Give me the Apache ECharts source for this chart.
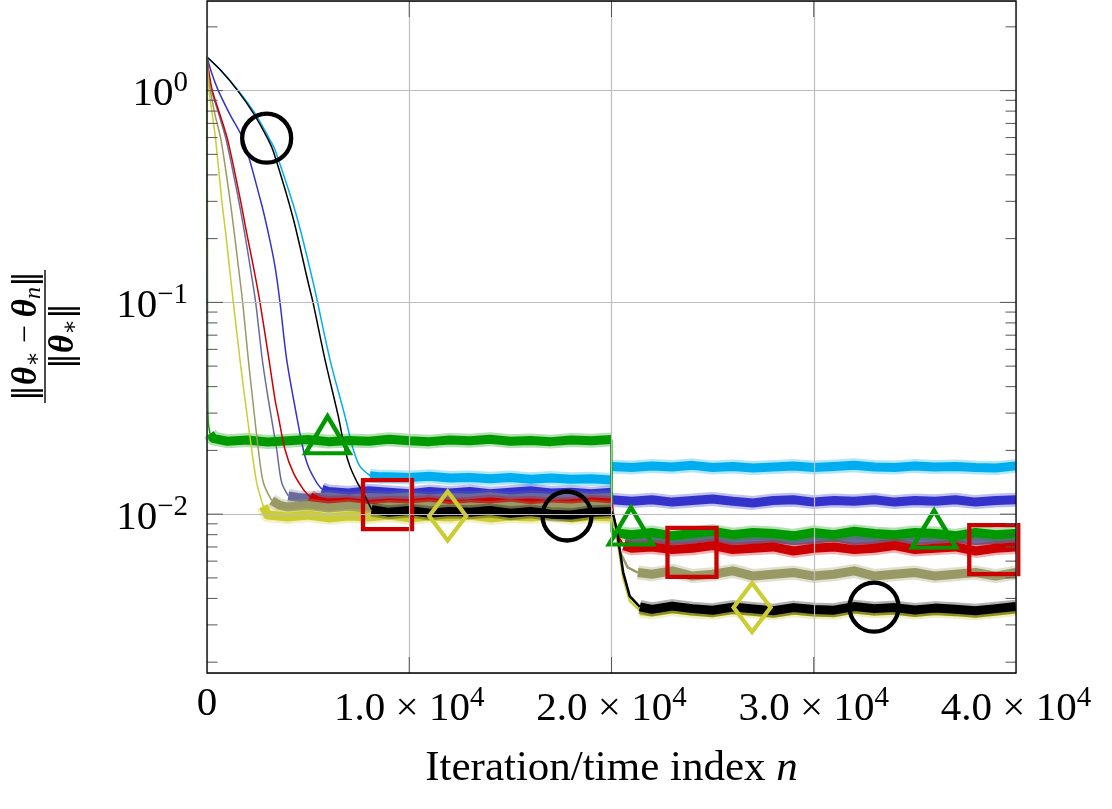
<!DOCTYPE html>
<html>
<head>
<meta charset="utf-8">
<script src="https://cdn.jsdelivr.net/npm/echarts@6/dist/echarts.min.js"></script>
<style>
  html, body { margin: 0; padding: 0; background: #fff; }
  #chart { width: 1112px; height: 809px; }
</style>
</head>
<body>
<div id="chart"></div>
<script>
// axis extents
const xMin = 0;
const xMax = 40000;
const yMin = 0.001778;
const yMax = 2.649;
const xTickExp = 4;

// tick positions
const xMajorTicks = [10000, 20000, 30000];
const yMajorTicks = [0.01, 0.1, 1];
const yMinorTicks = [0.002, 0.003, 0.004, 0.005, 0.006, 0.007, 0.008, 0.009,
  0.02, 0.03, 0.04, 0.05, 0.06, 0.07, 0.08, 0.09,
  0.2, 0.3, 0.4, 0.5, 0.6, 0.7, 0.8, 0.9, 2];

// [iteration n, relative error]
const cyanPath = [[0,1.44],[700,1.24],[1549,1.0],[2373,0.78],[3115,0.585],[3362,0.525],[4435,0.2544],[5255,0.1234],[6081,0.0537],[6823,0.029],[7233,0.0202],[7564,0.0168],[8059,0.0152],[8600,0.0150],[9000,0.0150],[10000,0.0149],[11000,0.0151],[12000,0.0148],[13000,0.0149],[14000,0.0147],[15000,0.0149],[16000,0.0146],[17000,0.0148],[18000,0.0146],[19000,0.0147],[19990,0.0145],[20010,0.0168],[21000,0.0166],[22000,0.0169],[23000,0.0167],[24000,0.0170],[25000,0.0166],[26000,0.0168],[27000,0.0165],[28000,0.0167],[29000,0.0169],[30000,0.0166],[31000,0.0168],[32000,0.0170],[33000,0.0167],[34000,0.0166],[35000,0.0169],[36000,0.0167],[37000,0.0168],[38000,0.0166],[39000,0.0165],[40000,0.0169]];
const bluePath = [[0,1.44],[231,1.21],[560,1.0],[1137,0.77],[1797,0.585],[2640,0.305],[3032,0.2125],[3362,0.148],[3609,0.1],[3940,0.0537],[4435,0.029],[4761,0.0202],[5008,0.0168],[5424,0.0141],[5686,0.0131],[6000,0.0128],[7000,0.0126],[8000,0.0129],[9000,0.0127],[10000,0.0125],[11000,0.0128],[12000,0.0126],[13000,0.0128],[14000,0.0125],[15000,0.0127],[16000,0.0129],[17000,0.0126],[18000,0.0127],[19000,0.0125],[19990,0.0127],[20010,0.0117],[21000,0.0115],[22000,0.0117],[23000,0.0114],[24000,0.0116],[25000,0.0118],[26000,0.0115],[27000,0.0113],[28000,0.0116],[29000,0.0117],[30000,0.0114],[31000,0.0116],[32000,0.0115],[33000,0.0117],[34000,0.0114],[35000,0.0116],[36000,0.0115],[37000,0.0117],[38000,0.0114],[39000,0.0116],[40000,0.0117]];
const slatePath = [[0,1.44],[90,1.21],[230,1.0],[590,0.77],[950,0.585],[1560,0.305],[1860,0.2125],[2130,0.148],[2406,0.1],[2735,0.0536],[3032,0.0348],[3445,0.0202],[3692,0.0141],[4021,0.0122],[4500,0.0120],[5000,0.0119],[6000,0.0121],[7000,0.0118],[8000,0.0120],[9000,0.0119],[10000,0.0121],[11000,0.0118],[12000,0.0120],[13000,0.0119],[14000,0.0121],[15000,0.0118],[16000,0.0120],[17000,0.0119],[18000,0.0121],[19000,0.0119],[19990,0.0120],[20100,0.0096],[20300,0.0081],[20700,0.0077],[21000,0.0076],[22000,0.0077],[23000,0.0075],[24000,0.0076],[25000,0.0078],[26000,0.0075],[27000,0.0076],[28000,0.0077],[29000,0.0075],[30000,0.0076],[31000,0.0078],[32000,0.0075],[33000,0.0076],[34000,0.0077],[35000,0.0075],[36000,0.0076],[37000,0.0077],[38000,0.0075],[39000,0.0076],[40000,0.0077]];
const greenPath = [[0,1.44],[15,0.3],[25,0.08],[40,0.035],[66,0.027],[150,0.0240],[300,0.0228],[1000,0.0221],[2000,0.0224],[3000,0.0219],[4000,0.0222],[5000,0.0225],[6000,0.0220],[7000,0.0223],[8000,0.0221],[9000,0.0226],[10000,0.0222],[11000,0.0220],[12000,0.0224],[13000,0.0222],[14000,0.0226],[15000,0.0221],[16000,0.0223],[17000,0.0220],[18000,0.0224],[19000,0.0222],[19990,0.0225],[20010,0.0082],[21000,0.0080],[22000,0.0082],[23000,0.0079],[24000,0.0081],[25000,0.0083],[26000,0.0080],[27000,0.0082],[28000,0.0081],[29000,0.0079],[30000,0.0082],[31000,0.0080],[32000,0.0083],[33000,0.0081],[34000,0.0080],[35000,0.0082],[36000,0.0081],[37000,0.0079],[38000,0.0082],[39000,0.0080],[40000,0.0081]];
const redPath = [[0,1.44],[99,1.21],[264,1.0],[643,0.77],[1022,0.585],[1650,0.305],[1962,0.2125],[2291,0.148],[2620,0.1],[3065,0.0536],[3362,0.0348],[3525,0.029],[3856,0.0202],[4267,0.0157],[4761,0.0131],[5092,0.0121],[5500,0.0115],[6000,0.0113],[7000,0.0114],[8000,0.0111],[9000,0.0113],[10000,0.0112],[11000,0.0114],[12000,0.0111],[13000,0.0112],[14000,0.0114],[15000,0.0112],[16000,0.0113],[17000,0.0111],[18000,0.0112],[19000,0.0114],[19990,0.0113],[20100,0.0096],[20300,0.0079],[20600,0.0071],[21000,0.0069],[22000,0.0070],[23000,0.0068],[24000,0.0069],[25000,0.0071],[26000,0.0068],[27000,0.0069],[28000,0.0070],[29000,0.0067],[30000,0.0069],[31000,0.0070],[32000,0.0068],[33000,0.0069],[34000,0.0071],[35000,0.0068],[36000,0.0069],[37000,0.0070],[38000,0.0067],[39000,0.0069],[40000,0.0070]];
const olivePath = [[0,1.44],[50,1.21],[165,1.0],[395,0.77],[692,0.585],[1137,0.305],[1351,0.2125],[1549,0.148],[1764,0.1],[2044,0.0536],[2258,0.0348],[2539,0.0202],[2785,0.0141],[3197,0.0116],[3600,0.0110],[4000,0.0108],[5000,0.0110],[6000,0.0107],[7000,0.0109],[8000,0.0106],[9000,0.0108],[10000,0.0107],[11000,0.0109],[12000,0.0106],[13000,0.0108],[14000,0.0107],[15000,0.0109],[16000,0.0106],[17000,0.0108],[18000,0.0107],[19000,0.0109],[19990,0.0107],[20150,0.0089],[20400,0.0067],[20800,0.0056],[21300,0.0053],[22000,0.0052],[23000,0.0054],[24000,0.0051],[25000,0.0052],[26000,0.0054],[27000,0.0051],[28000,0.0052],[29000,0.0053],[30000,0.0051],[31000,0.0052],[32000,0.0054],[33000,0.0051],[34000,0.0052],[35000,0.0053],[36000,0.0051],[37000,0.0052],[38000,0.0053],[39000,0.0051],[40000,0.0053]];
const yellowPath = [[0,1.44],[33,1.21],[99,1.0],[264,0.77],[430,0.585],[727,0.305],[923,0.2125],[1104,0.148],[1302,0.1],[1631,0.0536],[1879,0.0348],[2209,0.0202],[2456,0.0141],[2785,0.0109],[3000,0.0099],[4000,0.0097],[5000,0.0099],[6000,0.0096],[7000,0.0098],[8000,0.0097],[9000,0.0099],[10000,0.0096],[11000,0.0098],[12000,0.0097],[13000,0.0099],[14000,0.0096],[15000,0.0098],[16000,0.0097],[17000,0.0099],[18000,0.0096],[19000,0.0098],[19990,0.0097],[20100,0.0093],[20250,0.0080],[20580,0.0050],[20900,0.0039],[21400,0.00350],[22000,0.00345],[23000,0.00356],[24000,0.00348],[25000,0.00342],[26000,0.00354],[27000,0.00347],[28000,0.00340],[29000,0.00352],[30000,0.00345],[31000,0.00342],[32000,0.00356],[33000,0.00348],[34000,0.00352],[35000,0.00343],[36000,0.00350],[37000,0.00346],[38000,0.00340],[39000,0.00348],[40000,0.00356]];
const blackPath = [[0,1.44],[700,1.24],[1516,1.0],[2300,0.78],[3032,0.585],[3287,0.514],[4237,0.2544],[5008,0.1234],[5241,0.1],[5834,0.0537],[6491,0.029],[6822,0.0202],[7070,0.0168],[7431,0.0141],[7728,0.0126],[8143,0.0105],[9000,0.0102],[10000,0.0104],[11000,0.0101],[12000,0.0103],[13000,0.0102],[14000,0.0104],[15000,0.0101],[16000,0.0103],[17000,0.0100],[18000,0.0099],[19000,0.0102],[19990,0.0103],[20100,0.0098],[20250,0.0085],[20580,0.0053],[20900,0.0041],[21400,0.00365],[22000,0.00355],[23000,0.00368],[24000,0.00358],[25000,0.00352],[26000,0.00364],[27000,0.00357],[28000,0.00350],[29000,0.00362],[30000,0.00355],[31000,0.00352],[32000,0.00366],[33000,0.00358],[34000,0.00362],[35000,0.00353],[36000,0.00360],[37000,0.00356],[38000,0.00350],[39000,0.00358],[40000,0.00366]];

// stretches where the curve is a noisy plateau
const cyanBand = [[8000, 19990], [20010, 40000]];
const blueBand = [[5600, 19990], [20010, 40000]];
const slateBand = [[3900, 19990], [20700, 40000]];
const greenBand = [[100, 19990], [20010, 40000]];
const redBand = [[4900, 19990], [20600, 40000]];
const oliveBand = [[3000, 19990], [21000, 40000]];
const yellowBand = [[2700, 19990], [21300, 40000]];
const blackBand = [[8000, 19990], [21400, 40000]];

// marker positions
const circleMarks = [[2950, 0.596], [17800, 0.0098], [32980, 0.00364]];
const triangleMarks = [[5960, 0.0237], [20960, 0.0088], [35950, 0.0085]];
const squareMarks = [[8925, 0.0111], [23980, 0.0066], [38900, 0.0068]];
const diamondMarks = [[11900, 0.0098], [26950, 0.00362]];

const serif = "'Liberation Serif', 'DejaVu Serif', serif";

function bandData(path, ranges) {
  const out = [];
  ranges.forEach(function (r, i) {
    if (i > 0) out.push([(ranges[i - 1][1] + r[0]) / 2, '-']);
    path.forEach(function (p) {
      if (p[0] >= r[0] && p[0] <= r[1]) out.push(p);
    });
  });
  return out;
}
function decayData(path, ranges) {
  const i = path.findIndex(function (p) { return p[0] >= ranges[0][0]; });
  return path.slice(0, i + 1);
}
function jumpData(path, ranges) {
  let i0 = 0;
  path.forEach(function (p, i) { if (p[0] <= ranges[0][1]) i0 = i; });
  const i1 = path.findIndex(function (p) { return p[0] >= ranges[1][0]; });
  return path.slice(i0, i1 + 1);
}

const curves = [
  { name: 'cyan', color: '#00AEEF', path: cyanPath, band: cyanBand },
  { name: 'blue', color: '#3333CC', path: bluePath, band: blueBand },
  { name: 'slate', color: '#6A6A9C', path: slatePath, band: slateBand },
  { name: 'green', color: '#009900', path: greenPath, band: greenBand },
  { name: 'red', color: '#CC0000', path: redPath, band: redBand },
  { name: 'olive', color: '#999966', path: olivePath, band: oliveBand },
  { name: 'yellow', color: '#CCCC33', path: yellowPath, band: yellowBand },
  { name: 'black', color: '#000000', path: blackPath, band: blackBand }
];

let series = [];
curves.forEach(function (c) {
  const band = bandData(c.path, c.band);
  series.push({
    name: c.name, type: 'line', data: decayData(c.path, c.band), symbol: 'none', z: 2,
    smooth: 0.3, lineStyle: { color: c.color, width: 1.5 }
  });
  series.push({
    name: c.name + ' jump', type: 'line', data: jumpData(c.path, c.band), symbol: 'none', z: 2,
    lineStyle: { color: c.color, width: 2.5 }
  });
  // faint outer fringe of the noise, then the solid core
  series.push({
    name: c.name + ' fringe', type: 'line', data: band, symbol: 'none', z: 2,
    connectNulls: false,
    lineStyle: { color: c.color, width: 14, opacity: 0.3, join: 'round' }
  });
  series.push({
    name: c.name + ' band', type: 'line', data: band, symbol: 'none', z: 2,
    connectNulls: false,
    lineStyle: { color: c.color, width: 9, join: 'round' }
  });
});

function markSeries(data, symbol, size, color) {
  return {
    type: 'scatter', data: data, symbol: symbol, symbolSize: size, z: 4,
    itemStyle: { color: 'rgba(0,0,0,0)', borderColor: color, borderWidth: 4.3, opacity: 1 }
  };
}
series.push(markSeries(circleMarks, 'circle', 49, '#000000'));
series.push(markSeries(triangleMarks, 'triangle', [44, 37], '#009900'));
series.push(markSeries(squareMarks, 'rect', 49, '#CC0000'));
series.push(markSeries(diamondMarks, 'diamond', [37, 49], '#CCCC33'));

// inward ticks on all four sides
function tickLine(x1, y1, x2, y2) {
  return { type: 'line', shape: { x1: x1, y1: y1, x2: x2, y2: y2 }, style: { stroke: '#555', lineWidth: 1 } };
}
series.push({
  type: 'custom', z: 6, silent: true,
  data: yMinorTicks.map(function (v) { return [xMin, v, 10.5]; })
    .concat(yMajorTicks.map(function (v) { return [xMin, v, 16]; })),
  renderItem: function (params, api) {
    const l = api.coord([xMin, api.value(1)]);
    const r = api.coord([xMax, api.value(1)]);
    const len = api.value(2);
    return { type: 'group', children: [tickLine(l[0], l[1], l[0] + len, l[1]), tickLine(r[0], r[1], r[0] - len, r[1])] };
  }
});
series.push({
  type: 'custom', z: 6, silent: true,
  data: xMajorTicks.map(function (v) { return [v, yMin]; }),
  renderItem: function (params, api) {
    const b = api.coord([api.value(0), yMin]);
    const t = api.coord([api.value(0), yMax]);
    return { type: 'group', children: [tickLine(b[0], b[1], b[0], b[1] - 16), tickLine(t[0], t[1], t[0], t[1] + 16)] };
  }
});

const fracRich = {
  n: { fontFamily: "'DejaVu Serif', serif", fontSize: 32, fill: '#000' },
  m: { fontFamily: serif, fontSize: 32, fill: '#000' },
  t: { fontFamily: serif, fontSize: 35, fontWeight: 'bold', fontStyle: 'italic', fill: '#000' },
  s: { fontFamily: serif, fontSize: 23, fill: '#000', padding: [14, 0, 0, 0] },
  si: { fontFamily: serif, fontSize: 24, fontStyle: 'italic', fill: '#000', padding: [14, 0, 0, 0] }
};

const chart = echarts.init(document.getElementById('chart'));
const option = {
  animation: false,
  backgroundColor: '#fff',
  grid: { left: 207, right: 96, top: 1, bottom: 136, show: true, borderColor: '#000', borderWidth: 1.3, z: 10 },
  xAxis: {
    type: 'value', min: xMin, max: xMax, interval: 10000, z: 5,
    axisLine: { show: false }, axisTick: { show: false },
    splitLine: { show: true, lineStyle: { color: '#bdbdbd', width: 1.2 } },
    axisLabel: {
      margin: 11, color: '#000', fontFamily: serif, fontSize: 41,
      formatter: function (v) {
        if (v === 0) return '{b|0}';
        return '{b|' + (v / Math.pow(10, xTickExp)).toFixed(1) + ' × 10}{s|' + xTickExp + '}';
      },
      rich: {
        b: { fontFamily: serif, fontSize: 41, color: '#000' },
        s: { fontFamily: serif, fontSize: 29, color: '#000', padding: [0, 0, 22, 0] }
      }
    },
    name: 'Iteration/time index {i|n}', nameLocation: 'middle', nameGap: 74,
    nameTextStyle: {
      fontFamily: serif, fontSize: 43, color: '#000',
      rich: { i: { fontFamily: serif, fontSize: 43, fontStyle: 'italic', color: '#000' } }
    }
  },
  yAxis: {
    type: 'log', logBase: 10, min: yMin, max: yMax, z: 5,
    axisLine: { show: false }, axisTick: { show: false },
    splitLine: { show: true, lineStyle: { color: '#bdbdbd', width: 1.2 } },
    axisLabel: {
      margin: 19, color: '#000', fontFamily: serif, fontSize: 41,
      showMinLabel: false, showMaxLabel: false,
      formatter: function (v) {
        const e = Math.round(Math.log10(v));
        if (Math.abs(Math.log10(v) - e) > 1e-6) return '';
        return '{b|10}{s|' + (e < 0 ? '−' + (-e) : e) + '}';
      },
      rich: {
        b: { fontFamily: serif, fontSize: 41, color: '#000', padding: [8, 0, 0, 0] },
        s: { fontFamily: serif, fontSize: 29, color: '#000', padding: [0, 0, 14, 0] }
      }
    }
  },
  graphic: [{
    type: 'group', x: 45, y: 336, rotation: Math.PI / 2,
    children: [
      {
        type: 'text', x: 0, y: -18,
        style: {
          text: '{n|‖}{t|θ}{s|∗}{m| − }{t|θ}{si|n}{n|‖}', align: 'center', verticalAlign: 'middle',
          rich: fracRich
        }
      },
      { type: 'line', shape: { x1: -67, y1: 0, x2: 66, y2: 0 }, style: { stroke: '#000', lineWidth: 1.4 } },
      {
        type: 'text', x: 0, y: 19,
        style: {
          text: '{n|‖}{t|θ}{s|∗}{n|‖}', align: 'center', verticalAlign: 'middle',
          rich: fracRich
        }
      }
    ]
  }],
  series: series
};
option && chart.setOption(option);
</script>
</body>
</html>
